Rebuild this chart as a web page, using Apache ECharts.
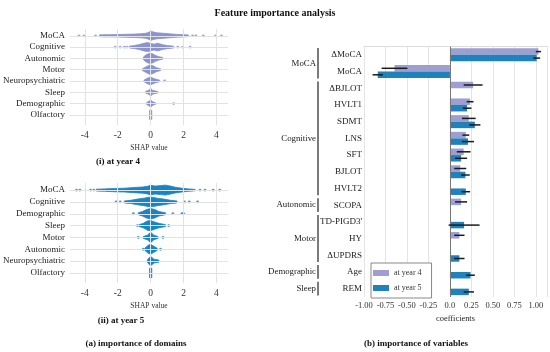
<!DOCTYPE html>
<html><head><meta charset="utf-8">
<script src="https://cdn.jsdelivr.net/npm/echarts@6/dist/echarts.min.js"></script>
<style>html,body{margin:0;padding:0;background:#fff}#c{width:550px;height:352px}</style>
</head><body><div id="c"></div>
<script>
const FONT = '"Liberation Serif", "Times New Roman", serif';
const mainTitle = 'Feature importance analysis';
const captions = ['(i) at year 4', '(ii) at year 5', '(a) importance of domains', '(b) importance of variables'];

// ---- SHAP beeswarm (domains), top row first ----
const shapTicks = [-4, -2, 0, 2, 4];
const domainsY4 = ['MoCA','Cognitive','Autonomic','Motor','Neuropsychiatric','Sleep','Demographic','Olfactory'];
const domainsY5 = ['MoCA','Cognitive','Demographic','Sleep','Motor','Autonomic','Neuropsychiatric','Olfactory'];
// density profile per domain: [SHAP value, half-height in row units]
const profileY4 = [
  [[-3.1,0.08],[-2.5,0.1],[-2.0,0.11],[-1.5,0.13],[-1.0,0.15],[-0.6,0.18],[-0.3,0.22],[-0.1,0.32],[0,0.42],[0.15,0.34],[0.4,0.26],[0.8,0.22],[1.2,0.17],[1.6,0.12],[2.0,0.1],[2.3,0.07]],
  [[-1.3,0.08],[-1.0,0.13],[-0.7,0.22],[-0.4,0.34],[-0.2,0.4],[0,0.34],[0.2,0.26],[0.45,0.34],[0.7,0.22],[1.0,0.14],[1.4,0.08]],
  [[-0.45,0.1],[-0.3,0.3],[-0.1,0.44],[0.1,0.42],[0.3,0.26],[0.5,0.15],[0.75,0.07]],
  [[-0.5,0.08],[-0.3,0.24],[-0.05,0.42],[0.15,0.34],[0.35,0.18],[0.6,0.08]],
  [[-0.4,0.08],[-0.2,0.24],[0,0.36],[0.15,0.24],[0.35,0.14],[0.55,0.07]],
  [[-0.3,0.08],[-0.1,0.18],[0,0.36],[0.1,0.18],[0.35,0.09],[0.45,0.06]],
  [[-0.25,0.07],[-0.05,0.26],[0.05,0.28],[0.15,0.13],[0.3,0.07]],
  [[-0.07,0.4],[0.07,0.4]]
];
const dotsY4 = [
  [-4.35,-4.05,-3.35,-2.75,2.55,2.75,3.2,3.95,4.3],
  [-2.15,-1.85,-1.6,-1.45,1.65,1.95,2.4],
  [], [], [0.85], [], [1.4], []
];
const profileY5 = [
  [[-3.3,0.08],[-2.8,0.1],[-2.2,0.14],[-1.6,0.16],[-1.0,0.22],[-0.5,0.26],[-0.2,0.32],[0,0.4],[0.3,0.34],[0.6,0.38],[0.9,0.42],[1.2,0.34],[1.5,0.24],[1.9,0.16],[2.3,0.1],[2.6,0.07]],
  [[-1.6,0.08],[-1.2,0.14],[-0.8,0.24],[-0.4,0.32],[-0.1,0.4],[0.1,0.4],[0.4,0.32],[0.8,0.24],[1.2,0.14],[1.6,0.08]],
  [[-0.75,0.08],[-0.5,0.19],[-0.25,0.36],[0,0.44],[0.25,0.36],[0.5,0.19],[0.9,0.08]],
  [[-0.7,0.08],[-0.45,0.19],[-0.2,0.39],[0,0.44],[0.2,0.32],[0.5,0.19],[0.9,0.08]],
  [[-0.45,0.08],[-0.2,0.19],[0,0.44],[0.2,0.19],[0.45,0.08]],
  [[-0.35,0.09],[-0.15,0.34],[0,0.42],[0.15,0.29],[0.4,0.09]],
  [[-0.2,0.09],[-0.05,0.34],[0.05,0.34],[0.2,0.16],[0.5,0.09]],
  [[-0.07,0.4],[0.07,0.4]]
];
const dotsY5 = [
  [-4.5,-4.3,-3.65,-3.45,-2.6,2.65,3.0,3.3,3.8,4.2],
  [-2.1,-1.85,2.05,2.35,2.85],
  [-1.05,1.35,1.9,2.0],
  [-0.8,1.1],
  [-0.75,0.75],
  [-0.45,0.6],
  [], []
];

// ---- coefficients (variables) ----
const variables = ['ΔMoCA','MoCA','ΔBJLOT','HVLT1','SDMT','LNS','SFT','BJLOT','HVLT2','SCOPA',"TD-PIGD3'",'HY','ΔUPDRS','Age','REM'];
const coefY4 = [1.03,-0.645,0.27,0.235,0.22,0.185,0.16,0.12,null,0.13,null,0.11,null,null,null];
const errY4  = [0.03,0.15,0.11,0.04,0.08,0.04,0.08,0.07,null,0.07,null,0.06,null,null,null];
const coefY5 = [1.01,-0.84,null,0.20,0.29,0.21,0.13,0.18,0.185,null,0.165,null,0.11,0.24,0.22];
const errY5  = [0.04,0.06,null,0.05,0.065,0.07,0.07,0.05,0.05,null,0.18,null,0.06,0.05,0.06];
const groupNames = ['MoCA','Cognitive','Autonomic','Motor','Demographic','Sleep'];
const groupStart = [0,2,9,10,13,14];
const groupEnd   = [1,8,9,12,13,14];
const coefTicksFmt = v => (v === 0 ? '0.0' : (v > 1.05 ? '' : v.toFixed(2)));
const seriesNames = ['at year 4','at year 5'];

const C4 = '#8a92d0', C5 = '#1685c6';
const B4 = '#9c9fd0', B5 = '#1f82bb';

function violin(gi, profiles, color) {
  const n = profiles.length;
  return {
    type: 'custom', xAxisIndex: gi, yAxisIndex: gi, z: 4, silent: true,
    data: profiles.map((p, i) => [0, n - 1 - i, i]),
    encode: { x: 0, y: 1 },
    renderItem(params, api) {
      const i = api.value(2), row = api.value(1);
      const prof = profiles[i];
      const up = prof.map(([x, h]) => api.coord([x, row + h]));
      const dn = prof.slice().reverse().map(([x, h]) => api.coord([x, row - h]));
      return { type: 'polygon', shape: { points: up.concat(dn) }, style: { fill: color, stroke: color, lineWidth: 0.8 } };
    }
  };
}
function dots(gi, list, color, n) {
  const data = [];
  list.forEach((arr, i) => arr.forEach(x => data.push([x, n - 1 - i])));
  return {
    type: 'scatter', xAxisIndex: gi, yAxisIndex: gi, z: 3, silent: true,
    symbolSize: 2.8, itemStyle: { color: color }, data: data,
    markLine: {
      silent: true, symbol: 'none', label: { show: false }, animation: false,
      lineStyle: { color: '#e2e2e2', width: 1, type: 'solid' },
      data: shapTicks.map(v => ({ xAxis: v })).concat(list.map((_, i) => ({ yAxis: i })))
    }
  };
}
function shapX(gi) {
  return {
    type: 'value', gridIndex: gi, min: -4.9, max: 4.7,
    splitLine: { show: false },
    axisLine: { show: true, lineStyle: { color: '#e2e2e2' } },
    axisTick: { show: true, customValues: shapTicks, length: 3, lineStyle: { color: '#bbb' } },
    axisLabel: { customValues: shapTicks, fontFamily: FONT, fontSize: 9.5, color: '#333', margin: 5 },
    name: 'SHAP value', nameLocation: 'middle', nameGap: 19,
    nameTextStyle: { fontFamily: FONT, fontSize: 7.5, color: '#333' }
  };
}
function shapY(gi, names, min) {
  const n = names.length;
  return {
    type: 'value', gridIndex: gi, min: min, max: 7.6,
    splitLine: { show: false }, axisLine: { show: false }, axisTick: { show: false },
    axisLabel: {
      customValues: names.map((_, i) => i),
      formatter: v => names[n - 1 - v] || '',
      fontFamily: FONT, fontSize: 9, color: '#222', margin: 5
    }
  };
}
function errBars(vals, errs, off) {
  return {
    type: 'custom', xAxisIndex: 2, yAxisIndex: 2, z: 6, silent: true,
    encode: { x: 1, y: 0 },
    data: vals.map((v, i) => (v == null ? null : [i, v, errs[i]])).filter(d => d),
    renderItem(params, api) {
      const i = api.value(0), v = api.value(1), e = api.value(2);
      const a = api.coord([v - e, i]), b = api.coord([v + e, i]);
      return { type: 'line', shape: { x1: a[0], y1: a[1] + off, x2: b[0], y2: b[1] + off },
        style: { stroke: '#1a1a1a', lineWidth: 1.5 } };
    }
  };
}

const chart = echarts.init(document.getElementById('c'), null, { renderer: 'canvas' });
chart.setOption({
  animation: false,
  backgroundColor: '#fff',
  title: { text: mainTitle, left: 'center', top: 3,
    textStyle: { fontFamily: FONT, fontSize: 10, fontWeight: 'bold', color: '#111' } },
  grid: [
    { left: 68, top: 29, width: 160, height: 96 },
    { left: 68, top: 183, width: 160, height: 100 },
    { left: 364, top: 46.5, width: 184, height: 250.5 }
  ],
  xAxis: [
    shapX(0), shapX(1),
    { type: 'value', gridIndex: 2, min: -1, max: 1.13, interval: 0.25,
      splitLine: { show: true, lineStyle: { color: '#e4e4e4' } },
      axisLine: { show: false }, axisTick: { show: false },
      axisLabel: { formatter: coefTicksFmt, fontFamily: FONT, fontSize: 8.5, color: '#333', margin: 4 },
      name: 'coefficients', nameLocation: 'middle', nameGap: 16,
      nameTextStyle: { fontFamily: FONT, fontSize: 8.4, color: '#222' } },
    { type: 'value', gridIndex: 2, position: 'top', min: -1, max: 1.13,
      axisLine: { show: true, lineStyle: { color: '#dcdcdc' } },
      axisTick: { show: false }, axisLabel: { show: false }, splitLine: { show: false } }
  ],
  yAxis: [
    shapY(0, domainsY4, -0.9),
    shapY(1, domainsY5, -0.85),
    { type: 'category', gridIndex: 2, data: variables, inverse: true,
      axisLine: { show: false }, axisTick: { show: false }, splitLine: { show: false },
      axisLabel: { fontFamily: FONT, fontSize: 9, color: '#222', margin: 2 } }
  ],
  legend: {
    data: seriesNames, orient: 'vertical', left: 371, top: 263,
    icon: 'rect', itemWidth: 16, itemHeight: 6, itemGap: 7,
    padding: [6, 10, 6, 2], borderColor: '#888', borderWidth: 1, backgroundColor: '#fff',
    textStyle: { fontFamily: FONT, fontSize: 8, color: '#333' }
  },
  graphic: [
    { type: 'text', x: 118, y: 162, style: { text: captions[0], font: 'bold 9px ' + FONT, fill: '#111', textAlign: 'center', textVerticalAlign: 'middle' } },
    { type: 'text', x: 121, y: 321, style: { text: captions[1], font: 'bold 9px ' + FONT, fill: '#111', textAlign: 'center', textVerticalAlign: 'middle' } },
    { type: 'text', x: 136, y: 344, style: { text: captions[2], font: 'bold 9px ' + FONT, fill: '#111', textAlign: 'center', textVerticalAlign: 'middle' } },
    { type: 'text', x: 416, y: 344, style: { text: captions[3], font: 'bold 9px ' + FONT, fill: '#111', textAlign: 'center', textVerticalAlign: 'middle' } }
  ],
  series: [
    dots(0, dotsY4, C4, domainsY4.length),
    violin(0, profileY4, C4),
    dots(1, dotsY5, C5, domainsY5.length),
    violin(1, profileY5, C5),
    { type: 'bar', name: seriesNames[0], xAxisIndex: 2, yAxisIndex: 2, data: coefY4,
      barWidth: 6.5, barGap: '0%', itemStyle: { color: B4 }, z: 3,
      markLine: { silent: true, symbol: 'none', label: { show: false },
        lineStyle: { color: '#777', width: 1, type: 'solid' }, data: [{ xAxis: 0 }] } },
    { type: 'bar', name: seriesNames[1], xAxisIndex: 2, yAxisIndex: 2, data: coefY5,
      barWidth: 6.5, barGap: '0%', itemStyle: { color: B5 }, z: 3 },
    errBars(coefY4, errY4, -3.25),
    errBars(coefY5, errY5, 3.25),
    { type: 'custom', xAxisIndex: 2, yAxisIndex: 2, silent: true, z: 5,
      encode: { x: 3, y: [0, 1] },
      data: groupNames.map((g, i) => [groupStart[i], groupEnd[i], i, -1]),
      renderItem(params, api) {
        const s = api.value(0), e = api.value(1), g = api.value(2);
        const band = api.size([0, 1])[1];
        const p0 = api.coord([-1, s]), p1 = api.coord([-1, e]);
        const top = p0[1] - band / 2 + 1.5, bot = p1[1] + band / 2 - 1.5;
        const x = p0[0] - 46;
        return { type: 'group', children: [
          { type: 'line', shape: { x1: x, y1: top, x2: x, y2: bot }, style: { stroke: '#222', lineWidth: 1.2 } },
          { type: 'text', x: x - 2, y: (top + bot) / 2,
            style: { text: groupNames[g], textAlign: 'right', textVerticalAlign: 'middle', font: '8.8px ' + FONT, fill: '#222' } }
        ] };
      }
    }
  ]
});
</script></body></html>
